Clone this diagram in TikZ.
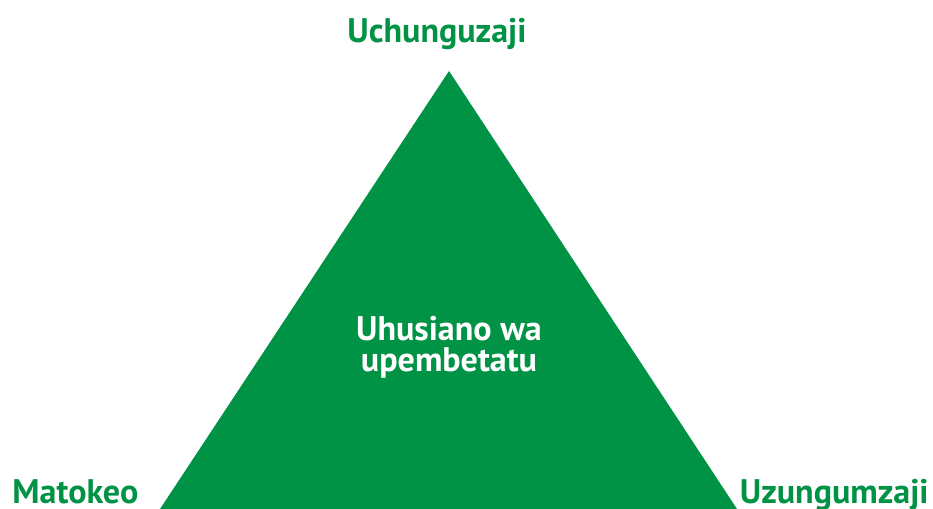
\documentclass[tikz,border=0pt]{standalone}
\usepackage{fontspec}
\setmainfont{PT Sans}
\definecolor{kijani}{HTML}{009245}
\tikzset{lebo/.style = {font = \bfseries\fontsize{19.4}{22}\selectfont, inner sep = 0pt}}
\begin{document}
\begin{tikzpicture}[x = 0.02cm, y = 0.02cm]
		\useasboundingbox (0, 0) rectangle (933, 509);
		\fill[kijani] (160, 0) coordinate (A) -- (449, 438) coordinate (B) -- (737, 0) coordinate (C) -- cycle;
		\node[lebo, text = kijani, anchor = base] (juu) at (437, 466) {Uchunguzaji};
		\node[lebo, text = kijani, anchor = base west] (kushoto) at (12, 5) {Matokeo};
		\node[lebo, text = kijani, anchor = base east] (kulia) at (929, 5) {Uzungumzaji};
		\node[lebo, text = white, align = center, font = \bfseries\fontsize{19.4}{18}\selectfont, anchor = base] (kati) at (449, 137) {Uhusiano wa\\upembetatu};
	\end{tikzpicture}
\end{document}
